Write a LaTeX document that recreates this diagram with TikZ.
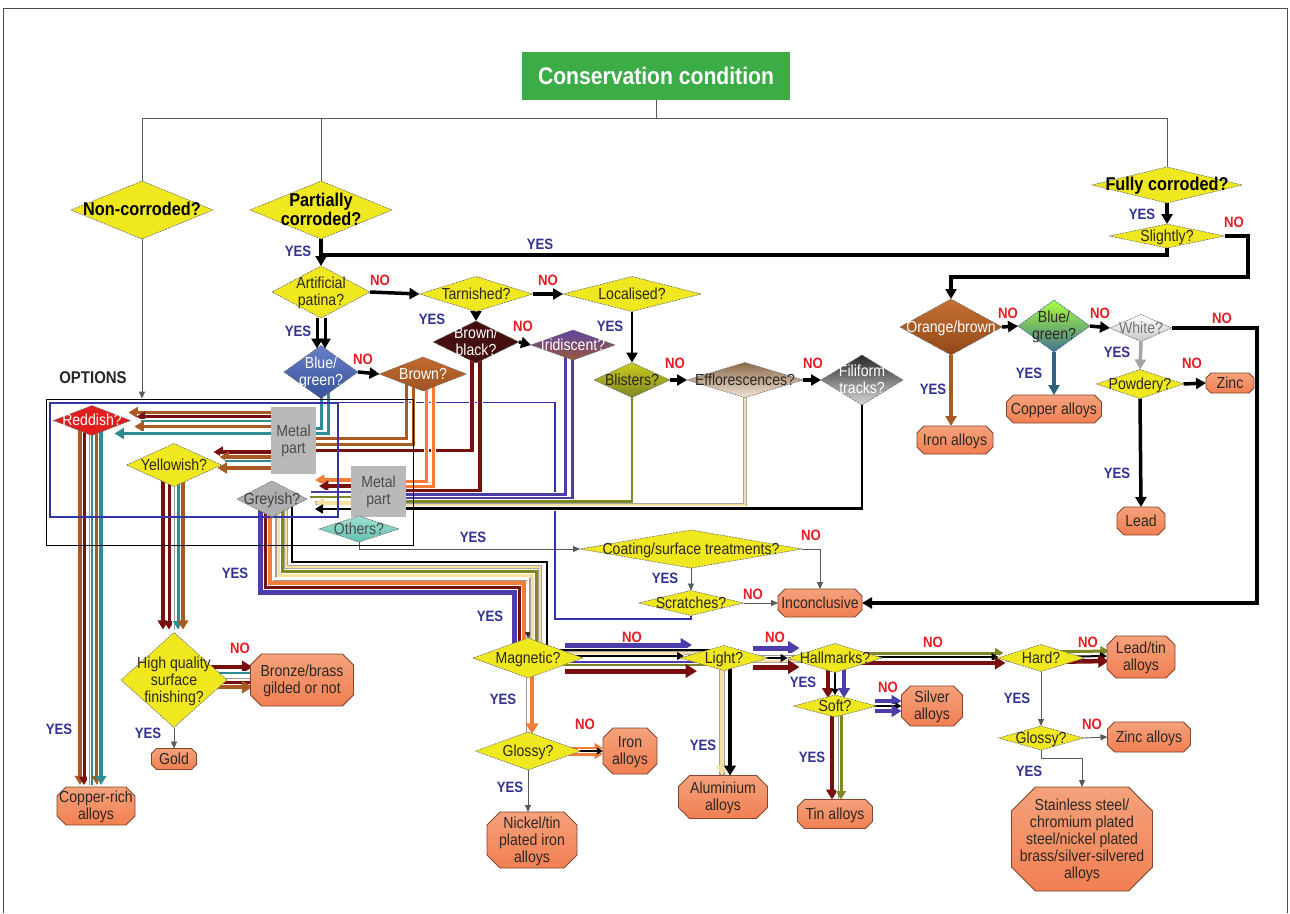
\documentclass[tikz,border=0pt]{standalone}
\usepackage{fontspec}
\setmainfont{Liberation Sans}[FakeStretch=0.88]
\usetikzlibrary{shapes.geometric,arrows.meta,calc}
\pgfdeclarelayer{back}
\pgfdeclarelayer{bg}
\pgfdeclarelayer{octl}
\pgfsetlayers{back,bg,octl,main}
\definecolor{qyel}{RGB}{240,232,30}
\definecolor{qgrn}{RGB}{60,172,70}
\definecolor{qoct}{RGB}{241,138,90}
\definecolor{qoctd}{RGB}{130,70,45}
\definecolor{qtxt}{RGB}{45,40,35}
\definecolor{qmar}{RGB}{120,14,14}
\definecolor{qbrn}{RGB}{168,90,34}
\definecolor{qtea}{RGB}{46,140,148}
\definecolor{qteb}{RGB}{45,100,130}
\definecolor{qorg}{RGB}{242,124,56}
\definecolor{qpur}{RGB}{76,62,170}
\definecolor{qolv}{RGB}{125,135,35}
\definecolor{qcrm}{RGB}{248,224,160}
\definecolor{qgry}{RGB}{165,165,165}
\definecolor{qnavy}{RGB}{52,52,165}
\definecolor{qyes}{RGB}{50,50,150}
\definecolor{qno}{RGB}{232,28,36}
\definecolor{qred}{RGB}{225,30,30}
\definecolor{qblu}{RGB}{65,95,185}
\definecolor{qbrq}{RGB}{195,105,45}
\definecolor{qbbk}{RGB}{70,15,15}
\definecolor{qirid}{RGB}{95,70,160}
\definecolor{qblis}{RGB}{180,180,40}
\definecolor{qtan}{RGB}{200,150,105}
\definecolor{qorb}{RGB}{192,96,30}
\definecolor{qbox}{RGB}{185,185,185}
\definecolor{qgreyd}{RGB}{175,175,175}
\definecolor{qaqua}{RGB}{120,210,190}
\newcommand\zt[1]{\smash{\raisebox{-6.3pt}{\makebox[0pt]{\begin{tabular}{@{}c@{}}#1\end{tabular}}}}}
\newcommand\octo[2]{\path[draw=qoctd, line width=0.9pt, top color=qoct!80!white, bottom color=qoct!92!red]
  ($(#1.north west)+(#2,0)$) -- ($(#1.north east)+(-#2,0)$) -- ($(#1.north east)+(0,#2)$) --
  ($(#1.south east)+(0,-#2)$) -- ($(#1.south east)+(-#2,0)$) -- ($(#1.south west)+(#2,0)$) --
  ($(#1.south west)+(0,-#2)$) -- ($(#1.north west)+(0,#2)$) -- cycle;}
\begin{document}
\begin{tikzpicture}[x=1pt,y=-1pt,
  nf/.style={font=\fontsize{16}{17}\selectfont},
  bf/.style={font=\bfseries\fontsize{18.5}{19}\selectfont, text=black},
  dia/.style 2 args={diamond, draw=black!55, dash pattern=on 2pt off 1pt, line width=0.6pt,
     inner sep=0pt, outer sep=0pt, minimum width=#1pt, minimum height=#2pt, text=qtxt, nf},
  ydia/.style 2 args={dia={#1}{#2}, fill=qyel},
  oct/.style 2 args={rectangle, inner sep=0pt, outer sep=0pt,
     minimum width=#1pt, minimum height=#2pt, text=qtxt, nf},
  gbox/.style 2 args={rectangle, fill=qbox, minimum width=#1pt, minimum height=#2pt, inner sep=0pt,
     text=black!70, align=center, nf},
  lyes/.style={font=\bfseries\fontsize{15}{16}\selectfont, text=qyes, inner sep=0pt},
  lno/.style={font=\bfseries\fontsize{15}{16}\selectfont, text=qno, inner sep=0pt},
  tline/.style={draw=black!65, line width=0.9pt},
  tlineA/.style={tline, -{Triangle[length=7pt,width=6pt]}},
  thk/.style={draw=black, line width=3.5pt},
  thkA/.style={thk, -{Triangle[length=10pt,width=11pt]}},
  cl/.style 2 args={draw=#1, line width=#2pt, preaction={draw=white, line width=#2pt+2pt, arrows=-}},
  clA/.style 2 args={cl={#1}{#2}, -{Triangle[length=4pt 1.5, width=4pt 1.9]}},
  clw/.style={draw=white, line width=1.5pt, preaction={draw=black!40, line width=3pt, arrows=-}},
  clc/.style={draw=qcrm, line width=#1pt, preaction={draw=black!35, line width=#1pt+1.4pt, arrows=-}},
  clcA/.style={clc=#1, -{Triangle[length=4pt 1.5, width=4pt 1.9]}},
  bluel/.style={draw=qnavy, line width=1.1pt}
]
\useasboundingbox (0,0) rectangle (1290,913);
\begin{pgfonlayer}{back}
\fill[white] (0,0) rectangle (1290,913);
\end{pgfonlayer}
\draw[black!70, line width=1pt] (3,913) -- (3,8) -- (1287,8) -- (1287,913);

% ---------- boxes of OPTIONS ----------
\node[draw=black, line width=0.9pt, minimum width=367pt, minimum height=146pt, inner sep=0pt] (optbox) at (229.5,472) {};
\node[draw=qnavy, line width=1.1pt, minimum width=288pt, minimum height=114pt, inner sep=0pt] (bluebox) at (194,460) {};

% ---------- nodes ----------
\node[rectangle, fill=qgrn, minimum width=268pt, minimum height=48pt, text=white,
      font=\bfseries\fontsize{24}{26}\selectfont] (title) at (656,76) {Conservation condition};
\node[ydia={142}{58}, bf] (noncor) at (142,210) {\zt{Non-corroded?}};
\node[ydia={142}{58}, bf] (partcor) at (321,210) {\zt{Partially\\corroded?}};
\node[ydia={150}{36}, bf] (fullcor) at (1167,185) {\zt{Fully corroded?}};
\node[ydia={115}{24}] (slightly) at (1167,236) {\zt{Slightly?}};
\node[ydia={98}{52}] (artpat) at (321,292) {\zt{Artificial\\patina?}};
\node[ydia={113}{35}] (tarn) at (476,294) {\zt{Tarnished?}};
\node[ydia={138}{35}] (local) at (632,294) {\zt{Localised?}};
\node[dia={74}{53}, top color=qblu!80!white, bottom color=qblu!85!black, text=white] (bgreenP) at (321,372) {\zt{Blue/\\green?}};
\node[dia={87}{34}, top color=qbrq, bottom color=qbrq!80!black, text=white] (brownQ) at (423,374) {\zt{Brown?}};
\node[dia={86}{42}, fill=qbbk, text=white] (bblack) at (476,342) {\zt{Brown/\\black?}};
\node[dia={84}{30}, top color=qirid, bottom color=qbrn!80!qirid, text=white] (irid) at (573,345) {\zt{Iridiscent?}};
\node[dia={76}{35}, top color=qblis!70!yellow, bottom color=qolv, text=qtxt] (blist) at (632,380) {\zt{Blisters?}};
\node[dia={116}{35}, top color=qtan!70!black, bottom color=qtan!25!white] (efflor) at (745,380) {\zt{Efflorescences?}};
\node[dia={82}{50}, top color=black!85, bottom color=black!15, text=white] (filif) at (862,380) {\zt{Filiform\\tracks?}};
\node[dia={102}{56}, top color=qorb!90!white, bottom color=qorb!75!black, text=white] (orbr) at (951,327) {\zt{Orange/brown}};
\node[dia={72}{52}, draw=qblu, top color=green!45!yellow!75!white, bottom color=qteb!90!white] (bgreenF) at (1054,326) {\zt{Blue/\\green?}};
\node[dia={62}{27}, top color=white, bottom color=black!22, text=black!55] (whiteq) at (1141,328) {\zt{White?}};
\node[ydia={87}{29}] (powd) at (1140,384) {\zt{Powdery?}};
\node[oct={48}{20}] (zinc) at (1230,383) {\zt{Zinc}};
\node[oct={95}{28}] (copper) at (1054,409) {\zt{Copper alloys}};
\node[oct={76}{28}] (ironR) at (955,440) {\zt{Iron alloys}};
\node[oct={48}{28}] (lead) at (1141,521) {\zt{Lead}};

\node[font=\bfseries\fontsize{17}{18}\selectfont, text=black!85, inner sep=0pt] (opts) at (93,378) {OPTIONS};
\node[dia={77}{30}, fill=qred, text=white] (reddish) at (92,420.5) {\zt{Reddish?}};
\node[gbox={45}{67}] (metal1) at (293.5,440.5) {Metal\\part};
\node[ydia={95}{43}] (yellowish) at (174,465) {\zt{Yellowish?}};
\node[gbox={55}{51}] (metal2) at (378.5,491.5) {Metal\\part};
\node[dia={70}{36}, fill=qgreyd, text=black!75] (greyish) at (272,499) {\zt{Greyish?}};
\node[dia={80}{26}, top color=qaqua!70!white, bottom color=qaqua!80!teal, text=black!70] (others) at (359,529) {\zt{Others?}};

\node[ydia={222}{38}] (coating) at (691,549) {\zt{Coating/surface treatments?}};
\node[ydia={105}{25}] (scratch) at (691,603) {\zt{Scratches?}};
\node[oct={84}{28}] (inconc) at (820,603) {\zt{Inconclusive}};
\node[ydia={110}{40}] (magnet) at (528,658) {\zt{Magnetic?}};
\node[ydia={88}{25}] (light) at (724,658) {\zt{Light?}};
\node[ydia={95}{29}] (hallm) at (835,658) {\zt{Hallmarks?}};
\node[ydia={87}{27}] (hard) at (1041,658) {\zt{Hard?}};
\node[oct={68}{42}] (leadtin) at (1141,657) {\zt{Lead/tin\\alloys}};
\node[ydia={83}{22}] (soft) at (835,706) {\zt{Soft?}};
\node[oct={61}{40}] (silver) at (932,706) {\zt{Silver\\alloys}};
\node[oct={75}{29}] (tin) at (835,814) {\zt{Tin alloys}};
\node[ydia={85}{24}] (glossR) at (1041,738) {\zt{Glossy?}};
\node[oct={83}{30}] (zincal) at (1149,737) {\zt{Zinc alloys}};
\node[oct={141}{104}] (stainless) at (1082,839)
  {\zt{Stainless steel/\\chromium plated\\steel/nickel plated\\brass/silver-silvered\\alloys}};
\node[ydia={105}{38}] (glossL) at (528,751) {\zt{Glossy?}};
\node[oct={54}{46}] (ironL) at (630,751) {\zt{Iron\\alloys}};
\node[oct={90}{56}] (nickel) at (532,840) {\zt{Nickel/tin\\plated iron\\alloys}};
\node[oct={89}{43}] (alum) at (723,797) {\zt{Aluminium\\alloys}};
\node[ydia={106}{95}] (hq) at (174,680) {\zt{High quality\\surface\\finishing?}};
\node[oct={103}{52}] (bronze) at (302,680) {\zt{Bronze/brass\\gilded or not}};
\node[oct={45}{21}] (gold) at (174,759) {\zt{Gold}};
\node[oct={78}{38}] (copperrich) at (96,806) {\zt{Copper-rich\\alloys}};

% octagon outlines (under the texts)
\begin{pgfonlayer}{octl}
\octo{zinc}{5}
\octo{copper}{7}
\octo{ironR}{7}
\octo{lead}{7}
\octo{inconc}{7}
\octo{leadtin}{9}
\octo{silver}{9}
\octo{tin}{7}
\octo{zincal}{7}
\octo{stainless}{24}
\octo{ironL}{10}
\octo{nickel}{13}
\octo{alum}{11}
\octo{bronze}{11}
\octo{gold}{5}
\octo{copperrich}{9}
\end{pgfonlayer}

% ---------- YES / NO labels ----------
\node[lyes] (y1) at (298,251) {YES};
\node[lyes] (y2) at (540,244) {YES};
\node[lyes] (y3) at (1142,214) {YES};
\node[lyes] (y4) at (298,331) {YES};
\node[lyes] (y5) at (432,319) {YES};
\node[lyes] (y6) at (610,326) {YES};
\node[lyes] (y7) at (933,389) {YES};
\node[lyes] (y8) at (1029,373) {YES};
\node[lyes] (y9) at (1117,352) {YES};
\node[lyes] (y10) at (1117,473) {YES};
\node[lyes] (y11) at (473,537) {YES};
\node[lyes] (y12) at (235,573) {YES};
\node[lyes] (y13) at (490,616) {YES};
\node[lyes] (y14) at (665,578) {YES};
\node[lyes] (y15) at (503,699) {YES};
\node[lyes] (y16) at (510,787) {YES};
\node[lyes] (y17) at (703,745) {YES};
\node[lyes] (y18) at (803,682) {YES};
\node[lyes] (y19) at (812,757) {YES};
\node[lyes] (y20) at (1017,698) {YES};
\node[lyes] (y21) at (1029,771) {YES};
\node[lyes] (y22) at (148,733) {YES};
\node[lyes] (y23) at (59,729) {YES};
\node[lno] (n1) at (380,280) {NO};
\node[lno] (n2) at (548,280) {NO};
\node[lno] (n3) at (523,326) {NO};
\node[lno] (n4) at (363,359) {NO};
\node[lno] (n5) at (675,363) {NO};
\node[lno] (n6) at (813,363) {NO};
\node[lno] (n7) at (1234,222) {NO};
\node[lno] (n8) at (1008,313) {NO};
\node[lno] (n9) at (1100,313) {NO};
\node[lno] (n10) at (1222,318) {NO};
\node[lno] (n11) at (1192,363) {NO};
\node[lno] (n12) at (811,535) {NO};
\node[lno] (n13) at (753,594) {NO};
\node[lno] (n14) at (632,637) {NO};
\node[lno] (n15) at (775,637) {NO};
\node[lno] (n16) at (933,642) {NO};
\node[lno] (n17) at (1088,642) {NO};
\node[lno] (n18) at (888,687) {NO};
\node[lno] (n19) at (585,724) {NO};
\node[lno] (n20) at (1092,724) {NO};
\node[lno] (n21) at (240,648) {NO};

% ---------- connectors ----------
\begin{pgfonlayer}{bg}
\coordinate (tl) at (142,118); \coordinate (tr) at (1167,118); \coordinate (hub) at (656,118);
\draw[tline] (title.south) -- (hub);
\draw[tline] (noncor.north) -- (tl) -- (tr) -- (fullcor.north);
\draw[tline] (partcor.north) -- (partcor.north |- hub);
\draw[tlineA] (noncor.south) -- (noncor.south |- optbox.north);

% thick black flow
\draw[thkA] (partcor.south) -- (artpat.north);
\coordinate (jn) at (321,255);
\draw[thk] (slightly.south) |- (jn);
\draw[thkA] (fullcor.south) -- (slightly.north);
\coordinate (sn) at (1248,277);
\draw[thkA] (slightly.east) -| (sn) -| (orbr.north);
\draw[thkA] (artpat.east) -- (tarn.west);
\draw[thkA, line width=3pt] ($(artpat.south)+(-4,0)$) -- ($(bgreenP.north)+(-4,3)$);
\draw[thkA, line width=3pt] ($(artpat.south)+(4,0)$) -- ($(bgreenP.north)+(4,3)$);
\draw[thkA] (tarn.east) -- (local.west);
\draw[thkA, line width=3pt] (tarn.south) -- (bblack.north);
\draw[thkA] (bblack.east) -- (irid.west);
\draw[thkA, line width=2.5pt] (local.south) -- (blist.north);
\draw[thkA] (blist.east) -- (efflor.west);
\draw[thkA] (efflor.east) -- (filif.west);
\draw[thkA] (bgreenP.east) -- (brownQ.west);
\draw[thkA] (orbr.east) -- (bgreenF.west);
\draw[thkA] (bgreenF.east) -- (whiteq.west);
\coordinate (wc) at (1257,603);
\draw[thkA] (whiteq.east) -| (wc) -- (inconc.east);
\draw[thkA, draw=qgry] (whiteq.south) -- (powd.north);
\draw[thkA] (powd.east) -- (zinc.west);
\draw[thkA] (powd.south) -- (lead.north);
\draw[thkA, draw=qbrn] (orbr.south) -- (orbr.south |- ironR.north);
\draw[thkA, draw=qteb] (bgreenF.south) -- (copper.north);

% thin flow
\draw[tlineA] (coating.east) -| (inconc.north);
\draw[tlineA] (coating.south) -- (scratch.north);
\draw[tlineA] (scratch.east) -- (inconc.west);
\draw[tlineA] (others.south) |- (coating.west);
\draw[bluel] (bluebox.north east) -| (555,619) -| (scratch.south);
\draw[tlineA] (hq.south) -- (gold.north);
\draw[tlineA] (glossL.south) -- (glossL.south |- nickel.north);
\draw[tlineA] (hard.south) -- (glossR.north);
\draw[tlineA] (glossR.east) -- (zincal.west);
\draw[tlineA] (glossR.south) -- ++(0,8) -| (stainless.north);

% into metal part 1
\draw[cl={qtea}{3}] (bgreenP.center) |- ($(metal1.east)+(0,-12)$);
\draw[cl={qtea}{3}] ($(bgreenP.center)+(7,0)$) |- ($(metal1.east)+(0,-7)$);
\draw[cl={qbrn}{3}] ($(brownQ.center)+(-17,0)$) |- ($(metal1.east)+(0,-2)$);
\draw[cl={qbrn}{3}] ($(brownQ.center)+(-10,0)$) |- ($(metal1.east)+(0,4)$);
\draw[cl={qmar}{3.5}] ($(bblack.center)+(-4,0)$) |- ($(metal1.east)+(0,10)$);
% into metal part 2
\draw[cl={qorg}{3}] ($(brownQ.center)+(3,0)$) |- ($(metal2.east)+(0,-10)$);
\draw[cl={qorg}{3}] ($(brownQ.center)+(10,0)$) |- ($(metal2.east)+(0,-5.5)$);
\draw[cl={qmar}{3.5}] ($(bblack.center)+(4,0)$) |- ($(metal2.east)+(0,-1)$);
\draw[cl={qpur}{3}] ($(irid.center)+(-8,0)$) |- ($(metal2.east)+(0,3)$);
\draw[cl={qpur}{3}] ($(irid.center)+(-1,0)$) |- ($(metal2.east)+(0,6.5)$);
\draw[cl={qolv}{2.5}] (blist.center) |- ($(metal2.east)+(0,10)$);
\draw[clc=2.5] (efflor.center) |- ($(metal2.east)+(0,13.5)$);
\draw[cl={black}{2.5}] (filif.center) |- ($(metal2.east)+(0,17)$);

% metal part 1 -> Reddish
\draw[clA={qbrn}{3.5}] ($(metal1.west)+(0,-28)$) -- ($(reddish.east)+(-2,-8)$);
\draw[clA={qmar}{3}] ($(metal1.west)+(0,-24)$) -- ($(reddish.east)+(6,-4)$);
\draw[cl={qtea}{2}] ($(metal1.west)+(0,-20)$) -- ($(reddish.east)+(10,0)$);
\draw[clA={qbrn}{3.5}] ($(metal1.west)+(0,-14)$) -- ($(reddish.east)+(4,6)$);
\draw[clA={qtea}{3.5}] ($(metal1.west)+(0,-7)$) -- ($(reddish.east)+(-16,13)$);
% metal part 1 -> Yellowish
\draw[clA={qmar}{3.5}] ($(metal1.west)+(0,11.5)$) -- ($(yellowish.east)+(-8,-13)$);
\draw[clA={qbrn}{3.5}] ($(metal1.west)+(0,16.5)$) -- ($(yellowish.east)+(-2,-8)$);
\draw[cl={qtea}{2.5}] ($(metal1.west)+(0,20.5)$) -- ($(yellowish.east)+(3,-4)$);
\draw[clA={qbrn}{3.5}] ($(metal1.west)+(0,27.5)$) -- ($(yellowish.east)+(-4,3)$);
% metal part 2 -> Greyish
\draw[clA={qorg}{3.5}] ($(metal2.west)+(0,-11.5)$) -- ($(greyish.east)+(8,-19)$);
\draw[clA={qmar}{3.5}] ($(metal2.west)+(0,-5.5)$) -- ($(greyish.east)+(12,-13)$);
\draw[cl={qpur}{2.5}] ($(metal2.west)+(0,0.5)$) -- ($(greyish.east)+(4,-7)$);
\draw[cl={qolv}{2.5}] ($(metal2.west)+(0,5.5)$) -- ($(greyish.east)+(3,-2)$);
\draw[clcA=3.5] ($(metal2.west)+(0,11.5)$) -- ($(greyish.east)+(8,4)$);
\draw[clA={black}{2.5}] ($(metal2.west)+(0,17.5)$) -- ($(greyish.east)+(8,10)$);

% Reddish -> Copper-rich alloys
\draw[clA={qbrn}{3.5}] ($(reddish.center)+(-12,0)$) -- ($(copperrich.north)+(-16,-2)$);
\draw[clA={qmar}{3}] ($(reddish.center)+(-8,0)$) -- ($(copperrich.north)+(-12,-2)$);
\draw[clw] ($(reddish.center)+(-4,0)$) -- ($(copperrich.north)+(-8,-2)$);
\draw[cl={qtea}{2}] ($(reddish.center)+(0,0)$) -- ($(copperrich.north)+(-4,-2)$);
\draw[clA={qbrn}{3.5}] ($(reddish.center)+(5,0)$) -- ($(copperrich.north)+(1,-2)$);
\draw[clA={qtea}{3.5}] ($(reddish.center)+(9,0)$) -- ($(copperrich.north)+(5,-2)$);
% Yellowish -> High quality
\draw[clA={qmar}{3.5}] ($(yellowish.center)+(-11,0)$) -- ($(hq.north)+(-11,-3)$);
\draw[clA={qmar}{3}] ($(yellowish.center)+(-5,0)$) -- ($(hq.north)+(-5,-3)$);
\draw[clw] ($(yellowish.center)+(-1,0)$) -- ($(hq.north)+(-1,-3)$);
\draw[clA={qtea}{3}] ($(yellowish.center)+(4,0)$) -- ($(hq.north)+(4,-3)$);
\draw[clA={qbrn}{3.5}] ($(yellowish.center)+(9,0)$) -- ($(hq.north)+(9,-3)$);
% High quality -> Bronze
\draw[clA={qmar}{4.5}] ($(hq.center)+(0,-13)$) -- ($(bronze.west)+(2,-13)$);
\draw[cl={qtea}{2.5}] ($(hq.center)+(0,-7)$) -- ($(bronze.west)+(0,-7)$);
\draw[clw] ($(hq.center)+(0,-3)$) -- ($(bronze.west)+(0,-3)$);
\draw[cl={qmar}{3}] ($(hq.center)+(0,2)$) -- ($(bronze.west)+(0,2)$);
\draw[clA={qbrn}{4.5}] ($(hq.center)+(0,7)$) -- ($(bronze.west)+(2,7)$);

% Greyish -> Magnetic
\draw[cl={qpur}{5}] ($(greyish.center)+(-12,0)$) |- (514,592) -- ($(magnet.center)+(-14,0)$);
\draw[cl={qmar}{3.5}] ($(greyish.center)+(-6,0)$) |- (520,587) -- ($(magnet.center)+(-8,0)$);
\draw[cl={qorg}{3.5}] ($(greyish.center)+(-2,0)$) |- (524,583) -- ($(magnet.center)+(-4,0)$);
\draw[clw, -{Triangle[length=6pt,width=6pt,color=black!80]}] ($(greyish.center)+(2,0)$) |- (528,579) -- (magnet.north);
\draw[clc=3] ($(greyish.center)+(6,0)$) |- (532,575) -- ($(magnet.center)+(4,0)$);
\draw[cl={qolv}{3}] ($(greyish.center)+(10,0)$) |- (536,571) -- ($(magnet.center)+(8,0)$);
\draw[clc=2.5] ($(greyish.center)+(14,0)$) |- (540,567) -- ($(magnet.center)+(12,0)$);
\draw[cl={black}{2.5}] ($(greyish.center)+(20,0)$) |- (547,562) -- ($(magnet.center)+(19,0)$);

% Magnetic -> Light
\draw[clA={qpur}{5}] ($(magnet.east)+(-18,-13)$) -- ($(light.west)+(12,-13)$);
\draw[cl={black}{2}] ($(magnet.center)+(0,-8)$) -- ($(light.center)+(0,-8)$);
\draw[clc=2.5] ($(magnet.center)+(0,-5)$) -- ($(light.center)+(0,-5)$);
\draw[clw] ($(magnet.center)+(0,1)$) -- ($(light.center)+(0,1)$);
\draw[cl={qpur}{2}] ($(magnet.center)+(0,4)$) -- ($(light.center)+(0,4)$);
\draw[cl={qolv}{2.5}] ($(magnet.center)+(0,7)$) -- ($(light.center)+(0,7)$);
\draw[clA={black}{2}] ($(magnet.center)+(0,-2)$) -- ($(light.west)+(4,-2)$);
\draw[clA={qmar}{5}] ($(magnet.east)+(-18,13)$) -- ($(light.west)+(17,13)$);
% Light -> Hallmarks
\draw[clA={qpur}{5}] ($(light.east)+(-15,-10)$) -- ($(hallm.west)+(12,-10)$);
\draw[clw] ($(light.center)+(0,-4)$) -- ($(hallm.center)+(0,-4)$);
\draw[clc=2] ($(light.center)+(0,3)$) -- ($(hallm.center)+(0,3)$);
\draw[clA={black}{2}] (light.center) -- (hallm.west);
\draw[clA={qmar}{5}] ($(light.east)+(-15,9)$) -- ($(hallm.west)+(12,9)$);
% Hallmarks -> Hard
\draw[clA={qolv}{3}] ($(hallm.center)+(0,-5)$) -- ($(hard.west)+(6,-5)$);
\draw[clw] ($(hallm.center)+(0,2)$) -- ($(hard.center)+(0,2)$);
\draw[clA={black}{2}] ($(hallm.center)+(0,-1)$) -- ($(hard.west)+(1,-1)$);
\draw[clA={qmar}{4.5}] ($(hallm.center)+(0,5)$) -- ($(hard.west)+(8,5)$);
% Hard -> Lead/tin
\draw[clA={qolv}{3}] ($(hard.center)+(0,-6)$) -- ($(leadtin.west)+(2,-6)$);
\draw[clA={black}{2}] ($(hard.center)+(0,-1)$) -- ($(leadtin.west)+(0,-1)$);
\draw[clA={qmar}{4.5}] ($(hard.center)+(0,4)$) -- ($(leadtin.west)+(2,4)$);
% Hallmarks -> Soft
\draw[clA={qmar}{4}] ($(hallm.center)+(-7,0)$) -- ($(soft.north)+(-7,3)$);
\draw[clA={black}{1.5}] (hallm.center) -- (soft.north);
\draw[clA={qpur}{4}] ($(hallm.center)+(9,0)$) -- ($(soft.north)+(9,3)$);
% Soft -> Silver
\draw[clA={qpur}{4}] ($(soft.east)+(-2,-5)$) -- ($(silver.west)+(0,-5)$);
\draw[clA={black}{1.5}] (soft.center) -- (silver.west);
\draw[clA={qpur}{4}] ($(soft.east)+(-2,5)$) -- ($(silver.west)+(0,5)$);
% Soft -> Tin
\draw[clA={qmar}{4}] ($(soft.center)+(-3,0)$) -- ($(tin.north)+(-3,0)$);
\draw[clw] ($(soft.center)+(2,0)$) -- ($(tin.north)+(2,0)$);
\draw[clA={qolv}{3}] ($(soft.center)+(6,0)$) -- ($(tin.north)+(6,0)$);
% Magnetic -> Glossy
\draw[clw] ($(magnet.center)+(-3,0)$) -- ($(glossL.north)+(-3,2)$);
\draw[clA={qorg}{4.5}] ($(magnet.center)+(4,0)$) -- ($(glossL.north)+(4,2)$);
% Glossy -> Iron alloys
\draw[clA={qorg}{3}] ($(glossL.center)+(0,-3)$) -- ($(ironL.west)+(0,-3)$);
\draw[clA={qorg}{3}] ($(glossL.center)+(0,3)$) -- ($(ironL.west)+(0,3)$);
\draw[clA={black}{1.5}] (glossL.center) -- (ironL.west);
% Light -> Aluminium
\draw[clcA=4] ($(light.center)+(-2,0)$) -- ($(alum.north)+(-1,0)$);
\draw[clA={black}{4}] ($(light.center)+(6,0)$) -- ($(alum.north)+(7,0)$);
\end{pgfonlayer}
\end{tikzpicture}
\end{document}
